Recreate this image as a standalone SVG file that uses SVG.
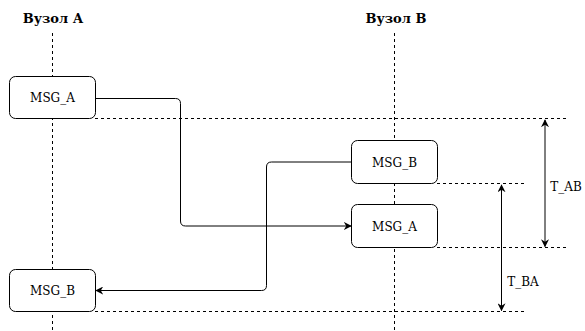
<svg xmlns="http://www.w3.org/2000/svg" width="585" height="331" viewBox="0 0 585 331">
<style>
.title{font-family:'DejaVu Serif','Liberation Serif',serif;font-weight:bold;font-size:13px;fill:#000;text-anchor:middle}
.lbl{font-family:'DejaVu Serif','Liberation Serif',serif;font-size:12px;fill:#000;text-anchor:middle}
.box{fill:#fff;stroke:#000;stroke-width:1}
.life{stroke:#000;stroke-width:1;stroke-dasharray:3 3;fill:none}
.guide{stroke:#000;stroke-width:1;stroke-dasharray:3 3;fill:none}
.conn{stroke:#000;stroke-width:1;fill:none}
</style>
<defs>
<marker id="ah" viewBox="0 0 10 10" refX="9" refY="5" markerWidth="8" markerHeight="8" markerUnits="userSpaceOnUse" orient="auto-start-reverse">
<path d="M0,0 L10,5 L0,10 L3,5 Z" fill="#000"/>
</marker>
</defs>
<rect width="585" height="331" fill="#fff"/>
<g id="lifelines">
<line class="life" x1="52.5" y1="33" x2="52.5" y2="331"/>
<line class="life" x1="394.5" y1="33" x2="394.5" y2="331"/>
</g>
<g id="guides">
<line class="guide" x1="95" y1="118.5" x2="567" y2="118.5"/>
<line class="guide" x1="437" y1="183.5" x2="524" y2="183.5"/>
<line class="guide" x1="437" y1="247.5" x2="567" y2="247.5"/>
<line class="guide" x1="95" y1="311.5" x2="524" y2="311.5"/>
</g>
<g id="title-a"><text class="title" x="53" y="23">Вузол А</text></g>
<g id="title-b"><text class="title" x="396" y="23">Вузол В</text></g>
<g id="connectors">
<path class="conn" d="M95,98.5 H175.5 Q180.5,98.5 180.5,103.5 V221 Q180.5,226 185.5,226 H351" marker-end="url(#ah)"/>
<path class="conn" d="M352,162 H271.5 Q266.5,162 266.5,167 V285.5 Q266.5,290.5 261.5,290.5 H96" marker-end="url(#ah)"/>
<line class="conn" x1="545" y1="120" x2="545" y2="246.5" marker-start="url(#ah)" marker-end="url(#ah)"/>
<line class="conn" x1="501.5" y1="185" x2="501.5" y2="310.5" marker-start="url(#ah)" marker-end="url(#ah)"/>
</g>
<g id="msg-a-a">
<rect class="box" x="9.5" y="76.5" width="86" height="42" rx="6"/>
<text class="lbl" x="52.5" y="102">MSG_A</text>
</g>
<g id="msg-b-b">
<rect class="box" x="351.5" y="140.5" width="86" height="43" rx="6"/>
<text class="lbl" x="394.5" y="166.5">MSG_B</text>
</g>
<g id="msg-a-b">
<rect class="box" x="351.5" y="204.5" width="86" height="43" rx="6"/>
<text class="lbl" x="394.5" y="230.5">MSG_A</text>
</g>
<g id="msg-b-a">
<rect class="box" x="9.5" y="269.5" width="86" height="42" rx="6"/>
<text class="lbl" x="52.5" y="295">MSG_B</text>
</g>
<g id="label-tab"><text class="lbl" x="566" y="191">T_AB</text></g>
<g id="label-tba"><text class="lbl" x="523" y="286">T_BA</text></g>
</svg>
